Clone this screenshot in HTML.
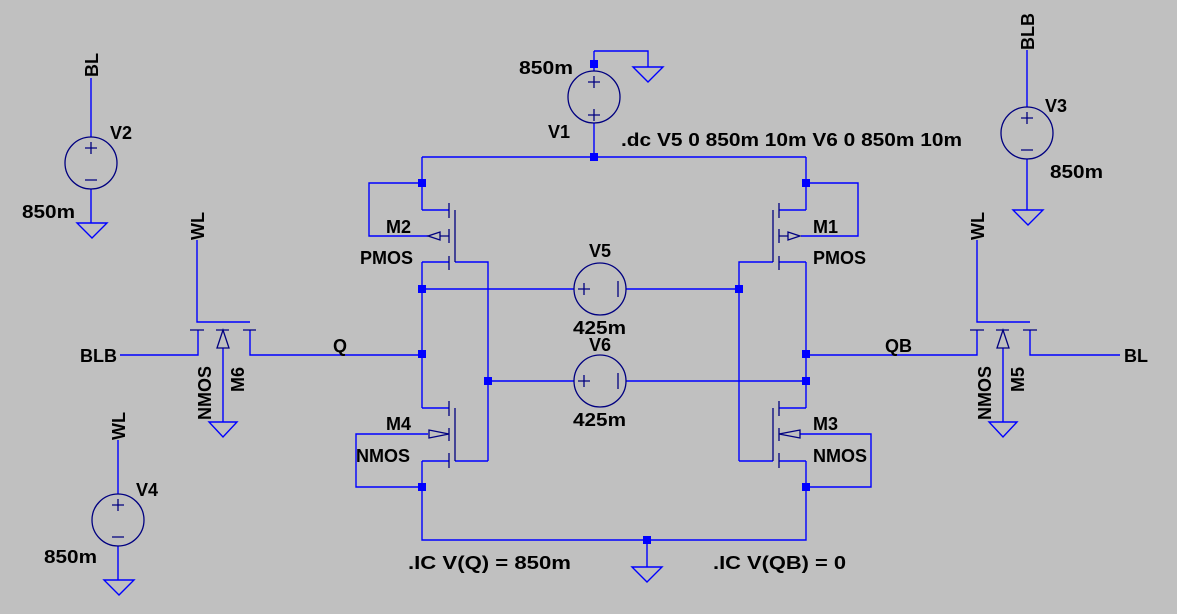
<!DOCTYPE html>
<html><head><meta charset="utf-8"><style>
html,body{margin:0;padding:0;background:#c0c0c0;}
svg{display:block}
text{font-family:"Liberation Sans",sans-serif;font-weight:bold;font-size:18px;fill:#000}
.w{stroke:#0000ff;stroke-width:1.4;fill:none}
.c{stroke:#000080;stroke-width:1.3;fill:none}
.n{fill:#0000ff}
</style></head><body>
<svg width="1177" height="614" viewBox="0 0 1177 614" xmlns="http://www.w3.org/2000/svg">
<rect width="1177" height="614" fill="#c0c0c0"/>

<!-- V2 -->
<path class="w" d="M91 78V137M91 189V223"/>
<circle class="c" cx="91" cy="163" r="26"/>
<path class="c" d="M85 148h12M91 142v12M85 180h12"/>
<path class="w" d="M77 223h30l-15 15z"/>
<text transform="translate(98,77) rotate(-90)">BL</text>
<text x="110" y="139">V2</text>
<text x="22" y="218" textLength="53" lengthAdjust="spacingAndGlyphs">850m</text>

<!-- V4 -->
<path class="w" d="M118 440V494M118 546V580"/>
<circle class="c" cx="118" cy="520" r="26"/>
<path class="c" d="M112 505h12M118 499v12M112 537h12"/>
<path class="w" d="M104 580h30l-15 15z"/>
<text transform="translate(125,440) rotate(-90)">WL</text>
<text x="136" y="496">V4</text>
<text x="44" y="563" textLength="53" lengthAdjust="spacingAndGlyphs">850m</text>

<!-- V3 -->
<path class="w" d="M1027 50V107M1027 159V210"/>
<circle class="c" cx="1027" cy="133" r="26"/>
<path class="c" d="M1021 118h12M1027 112v12M1021 150h12"/>
<path class="w" d="M1013 210h30l-15 15z"/>
<text transform="translate(1034,50) rotate(-90)">BLB</text>
<text x="1045" y="112">V3</text>
<text x="1050" y="178" textLength="53" lengthAdjust="spacingAndGlyphs">850m</text>

<!-- V1 -->
<path class="w" d="M594 51V71M594 123V157M594 51H648V67"/>
<rect class="n" x="590" y="60" width="8" height="8"/>
<circle class="c" cx="594" cy="97" r="26"/>
<path class="c" d="M588 82h12M594 76v12M588 115h12M594 109v12"/>
<path class="w" d="M633 67h30l-15 15z"/>
<text x="519" y="74" textLength="54" lengthAdjust="spacingAndGlyphs">850m</text>
<text x="548" y="138">V1</text>
<text x="621" y="146" textLength="341" lengthAdjust="spacingAndGlyphs">.dc V5 0 850m 10m V6 0 850m 10m</text>

<!-- rails -->
<path class="w" d="M422 157H806M422 157V210M806 157V210"/>
<rect class="n" x="590" y="153" width="8" height="8"/>
<path class="w" d="M422 487V540H806V487M647 540V567"/>
<rect class="n" x="643" y="536" width="8" height="8"/>
<path class="w" d="M632 567h30l-15 15z"/>

<!-- M2 -->
<rect class="n" x="418" y="179" width="8" height="8"/>
<path class="w" d="M422 183H369V236H428M422 210H449M422 262H449M455 262H488V461M422 262V408"/>
<path class="c" d="M449 203V218M449 229V243M449 256V270M455 210V262M440 236H449"/>
<path class="c" d="M428 236L440 232V240Z"/>
<text x="386" y="233">M2</text>
<text x="360" y="264">PMOS</text>

<!-- M1 -->
<rect class="n" x="802" y="179" width="8" height="8"/>
<path class="w" d="M806 183H858V236H801M806 210H779M806 262H779M773 262H739V461M806 262V408"/>
<path class="c" d="M779 203V218M779 229V243M779 256V270M773 210V262M779 236H788"/>
<path class="c" d="M800 236L788 232V240Z"/>
<text x="813" y="233">M1</text>
<text x="813" y="264">PMOS</text>

<!-- M4 -->
<path class="w" d="M422 408H449M422 461H449M455 461H488M428 434H356V487H422M422 461V487"/>
<path class="c" d="M449 401V416M449 428V441M449 453V468M455 408V461"/>
<path class="c" d="M449 434L429 430V438Z"/>
<text x="386" y="430">M4</text>
<text x="356" y="462">NMOS</text>
<rect class="n" x="418" y="483" width="8" height="8"/>

<!-- M3 -->
<path class="w" d="M806 408H779M806 461H779M773 461H739M800 434H871V487H806M806 461V487"/>
<path class="c" d="M779 401V416M779 428V441M779 453V468M773 408V461"/>
<path class="c" d="M779 434L800 430V438Z"/>
<text x="813" y="430">M3</text>
<text x="813" y="462">NMOS</text>
<rect class="n" x="802" y="483" width="8" height="8"/>

<!-- V5 -->
<path class="w" d="M422 289H574M626 289H739"/>
<circle class="c" cx="600" cy="289" r="26"/>
<path class="c" d="M578 289h12M584 283v12M618 281v16"/>
<rect class="n" x="418" y="285" width="8" height="8"/>
<rect class="n" x="735" y="285" width="8" height="8"/>
<text x="600" y="257" text-anchor="middle">V5</text>
<text x="573" y="334" textLength="53" lengthAdjust="spacingAndGlyphs">425m</text>

<!-- V6 -->
<path class="w" d="M488 381H574M626 381H806"/>
<circle class="c" cx="600" cy="381" r="26"/>
<path class="c" d="M578 381h12M584 375v12M618 373v16"/>
<rect class="n" x="484" y="377" width="8" height="8"/>
<rect class="n" x="802" y="377" width="8" height="8"/>
<text x="600" y="351" text-anchor="middle">V6</text>
<text x="573" y="426" textLength="53" lengthAdjust="spacingAndGlyphs">425m</text>

<!-- Q / QB nodes -->
<rect class="n" x="418" y="350" width="8" height="8"/>
<rect class="n" x="802" y="350" width="8" height="8"/>

<!-- M6 -->
<path class="w" d="M197 240V322H250M198 330V355H120M250 330V355H422M223 348V422"/>
<path class="c" d="M190 330H204M216 330H229M243 330H256"/>
<path class="c" d="M223 330L217 348H229Z"/>
<path class="w" d="M209 422h28l-14 15z"/>
<text transform="translate(204,240) rotate(-90)">WL</text>
<text x="80" y="362">BLB</text>
<text x="333" y="352">Q</text>
<text transform="translate(211,420) rotate(-90)">NMOS</text>
<text transform="translate(244,392) rotate(-90)">M6</text>

<!-- M5 -->
<path class="w" d="M977 240V322H1030M977 330V355H806M1030 330V355H1120M1003 348V422"/>
<path class="c" d="M970 330H984M996 330H1009M1023 330H1037"/>
<path class="c" d="M1003 330L997 348H1009Z"/>
<path class="w" d="M989 422h28l-14 15z"/>
<text transform="translate(984,240) rotate(-90)">WL</text>
<text x="1124" y="362">BL</text>
<text x="885" y="352">QB</text>
<text transform="translate(991,420) rotate(-90)">NMOS</text>
<text transform="translate(1024,392) rotate(-90)">M5</text>

<text x="408" y="569" textLength="163" lengthAdjust="spacingAndGlyphs">.IC V(Q) = 850m</text>
<text x="713" y="569" textLength="133" lengthAdjust="spacingAndGlyphs">.IC V(QB) = 0</text>
</svg>
</body></html>
